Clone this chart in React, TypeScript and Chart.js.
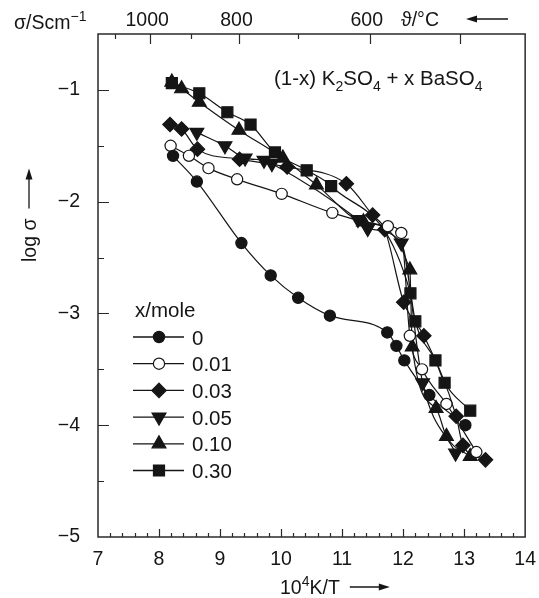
import React, { useEffect, useRef } from 'react';
import { Chart, registerables } from 'chart.js';

Chart.register(...registerables);

// ---- data ----
const xTickValues = [7, 8, 9, 10, 11, 12, 13, 14];
const yTickValues = [-5, -4, -3, -2, -1];
const topTempTicks = [1100, 1000, 900, 800, 700, 600, 500];
const topTempMajor = [1000, 800, 600, 500];
const topTempLabels = [1000, 800, 600];
const seriesLabels = ['0', '0.01', '0.03', '0.05', '0.10', '0.30'];

const x0 = [8.23, 8.62, 9.35, 9.83, 10.28, 10.8, 11.74, 11.89, 12.02, 12.43, 13.02];
const y0 = [-1.59, -1.82, -2.37, -2.66, -2.86, -3.02, -3.17, -3.29, -3.42, -3.73, -4.0];

const x1 = [8.19, 8.49, 8.81, 9.28, 10.01, 10.84, 11.75, 11.97, 12.11, 12.31, 12.71, 13.2];
const y1 = [-1.5, -1.59, -1.7, -1.8, -1.93, -2.1, -2.22, -2.28, -3.2, -3.5, -3.81, -4.24];

const x3 = [8.18, 8.37, 8.63, 9.32, 10.1, 11.07, 11.5, 11.7, 12.01, 12.34, 12.87, 12.98, 13.35];
const y3 = [-1.31, -1.35, -1.53, -1.62, -1.69, -1.84, -2.12, -2.25, -2.9, -3.2, -3.92, -4.18, -4.31];

const x5 = [8.62, 9.08, 9.41, 9.72, 9.85, 11.26, 11.42, 11.97, 12.32, 12.86];
const y5 = [-1.38, -1.5, -1.61, -1.63, -1.66, -2.16, -2.24, -2.37, -3.62, -4.25];

const x10 = [8.21, 8.37, 8.66, 9.31, 10.03, 10.58, 11.35, 12.11, 12.15, 12.54, 12.71, 13.1];
const y10 = [-0.93, -0.99, -1.11, -1.36, -1.61, -1.85, -2.18, -2.61, -3.3, -3.85, -4.1, -4.28];

const x30 = [8.21, 8.66, 9.12, 9.5, 9.9, 10.42, 10.82, 12.12, 12.2, 12.53, 12.68, 13.1];
const y30 = [-0.94, -1.03, -1.2, -1.31, -1.56, -1.72, -1.86, -2.82, -3.07, -3.42, -3.62, -3.87];

const seriesX = [x0, x1, x3, x5, x10, x30];
const seriesY = [y0, y1, y3, y5, y10, y30];

// ---- styles ----
const FONT = '"Liberation Sans", Arial, Helvetica, sans-serif';
const INK = '#151515';
const FS = 19.5;
const FS_TEXT = 20.5;

type MStyle = { ps: any; r: number; rot?: number; open?: boolean; kind: string };
const markerStyles: MStyle[] = [
  { ps: 'circle', r: 5.6, kind: 'circle' },
  { ps: 'circle', r: 5.6, open: true, kind: 'circle' },
  { ps: 'rectRot', r: 7.2, kind: 'diamond' },
  { ps: 'triangle', r: 8, rot: 180, kind: 'down' },
  { ps: 'triangle', r: 8, kind: 'up' },
  { ps: 'rect', r: 7.8, kind: 'square' },
];

function drawRich(ctx: CanvasRenderingContext2D, parts: { t: string; sub?: boolean; sup?: boolean }[], x: number, y: number, size: number) {
  let cx = x;
  for (const p of parts) {
    const s = p.sub || p.sup ? Math.round(size * 0.7) : size;
    ctx.font = `${s}px ${FONT}`;
    const dy = p.sub ? size * 0.3 : p.sup ? -size * 0.42 : 0;
    ctx.fillText(p.t, cx, y + dy);
    cx += ctx.measureText(p.t).width;
  }
  return cx;
}

function drawMarker(ctx: CanvasRenderingContext2D, kind: string, x: number, y: number, r: number, open?: boolean) {
  ctx.beginPath();
  if (kind === 'circle') {
    ctx.arc(x, y, r, 0, Math.PI * 2);
  } else if (kind === 'square') {
    const s = r * Math.SQRT1_2;
    ctx.rect(x - s, y - s, 2 * s, 2 * s);
  } else if (kind === 'diamond') {
    ctx.moveTo(x, y - r);
    ctx.lineTo(x + r, y);
    ctx.lineTo(x, y + r);
    ctx.lineTo(x - r, y);
    ctx.closePath();
  } else if (kind === 'up') {
    ctx.moveTo(x, y - r);
    ctx.lineTo(x + r * 0.866, y + r * 0.5);
    ctx.lineTo(x - r * 0.866, y + r * 0.5);
    ctx.closePath();
  } else if (kind === 'down') {
    ctx.moveTo(x, y + r);
    ctx.lineTo(x + r * 0.866, y - r * 0.5);
    ctx.lineTo(x - r * 0.866, y - r * 0.5);
    ctx.closePath();
  }
  ctx.fillStyle = open ? '#ffffff' : INK;
  ctx.fill();
  ctx.lineWidth = 1.2;
  ctx.strokeStyle = INK;
  ctx.stroke();
}

function arrowH(ctx: CanvasRenderingContext2D, x1: number, x2: number, y: number) {
  const dir = Math.sign(x2 - x1);
  ctx.beginPath();
  ctx.moveTo(x1, y);
  ctx.lineTo(x2 - dir * 8, y);
  ctx.lineWidth = 1.3;
  ctx.strokeStyle = INK;
  ctx.stroke();
  ctx.beginPath();
  ctx.moveTo(x2, y);
  ctx.lineTo(x2 - dir * 11, y - 3.5);
  ctx.lineTo(x2 - dir * 11, y + 3.5);
  ctx.closePath();
  ctx.fillStyle = INK;
  ctx.fill();
}

function arrowV(ctx: CanvasRenderingContext2D, x: number, y1: number, y2: number) {
  const dir = Math.sign(y2 - y1);
  ctx.beginPath();
  ctx.moveTo(x, y1);
  ctx.lineTo(x, y2 - dir * 8);
  ctx.lineWidth = 1.3;
  ctx.strokeStyle = INK;
  ctx.stroke();
  ctx.beginPath();
  ctx.moveTo(x, y2);
  ctx.lineTo(x - 3.5, y2 - dir * 11);
  ctx.lineTo(x + 3.5, y2 - dir * 11);
  ctx.closePath();
  ctx.fillStyle = INK;
  ctx.fill();
}

const decorPlugin = {
  id: 'decor',
  afterDraw(chart: any) {
    const ctx: CanvasRenderingContext2D = chart.ctx;
    const a = chart.chartArea;
    const xs = chart.scales.x;
    const ys = chart.scales.y;
    ctx.save();
    // frame
    ctx.strokeStyle = '#2a2a2a';
    ctx.lineWidth = 1.5;
    ctx.strokeRect(a.left, a.top, a.right - a.left, a.bottom - a.top);

    ctx.lineWidth = 1.2;
    ctx.beginPath();
    // left ticks (inward)
    for (let v = -5; v <= -0.5; v += 0.5) {
      const py = Math.round(ys.getPixelForValue(v)) + 0.5;
      if (py <= a.top + 1 || py >= a.bottom - 1) continue;
      const len = Number.isInteger(v) ? 11 : 6;
      ctx.moveTo(a.left, py);
      ctx.lineTo(a.left + len, py);
    }
    // bottom ticks (inward)
    for (let i = 0; i <= 35; i++) {
      const v = 7 + i * 0.2;
      const px = Math.round(xs.getPixelForValue(v)) + 0.5;
      if (px <= a.left + 1 || px >= a.right - 1) continue;
      const len = i % 5 === 0 ? 8 : 4;
      ctx.moveTo(px, a.bottom);
      ctx.lineTo(px, a.bottom - len);
    }
    // top ticks: temperature scale
    for (const t of topTempTicks) {
      const px = Math.round(xs.getPixelForValue(1e4 / (t + 273.15))) + 0.5;
      const len = topTempMajor.includes(t) ? 10 : 5;
      ctx.moveTo(px, a.top);
      ctx.lineTo(px, a.top + len);
    }
    ctx.stroke();

    ctx.fillStyle = INK;
    ctx.textBaseline = 'alphabetic';
    // top temperature labels
    ctx.font = `${FS}px ${FONT}`;
    ctx.textAlign = 'center';
    for (const t of topTempLabels) {
      const px = xs.getPixelForValue(1e4 / (t + 273.15));
      ctx.fillText(String(t), px - 3, 26);
    }
    ctx.textAlign = 'left';
    ctx.fillText('\u03D1/\u00B0C', 401, 26);
    arrowH(ctx, 508, 466, 19);

    // sigma unit
    drawRich(ctx, [{ t: '\u03C3/Scm' }, { t: '\u22121', sup: true }], 14, 29, FS);

    // inner title
    drawRich(ctx, [
      { t: '(1-x) K' }, { t: '2', sub: true }, { t: 'SO' }, { t: '4', sub: true },
      { t: ' + x BaSO' }, { t: '4', sub: true },
    ], 274, 85, FS_TEXT);

    // x axis title
    const endX = drawRich(ctx, [{ t: '10' }, { t: '4', sup: true }, { t: 'K/T' }], 280, 594, FS);
    arrowH(ctx, endX + 10, endX + 50, 587);

    // y axis title
    const yBase = 262;
    ctx.save();
    ctx.translate(36, yBase);
    ctx.rotate(-Math.PI / 2);
    ctx.font = `${FS}px ${FONT}`;
    ctx.textAlign = 'left';
    ctx.fillText('log \u03C3', 0, 0);
    const w = ctx.measureText('log \u03C3').width;
    ctx.restore();
    arrowV(ctx, 29, yBase - w - 10, yBase - w - 50);

    // legend
    ctx.font = `${FS_TEXT}px ${FONT}`;
    ctx.textAlign = 'left';
    ctx.fillStyle = INK;
    ctx.fillText('x/mole', 135, 317);
    const rowY0 = 337;
    const rowDY = 26.7;
    seriesLabels.forEach((lab, i) => {
      const yy = rowY0 + i * rowDY;
      ctx.beginPath();
      ctx.moveTo(133, yy);
      ctx.lineTo(184, yy);
      ctx.lineWidth = 1.3;
      ctx.strokeStyle = INK;
      ctx.stroke();
      const m = markerStyles[i];
      drawMarker(ctx, m.kind, 159, yy, m.r, m.open);
      ctx.fillStyle = INK;
      ctx.font = `${FS_TEXT}px ${FONT}`;
      ctx.fillText(lab, 192, yy + 7.5);
    });
    ctx.restore();
  },
};

export default function App() {
  const ref = useRef<HTMLCanvasElement>(null);
  useEffect(() => {
    document.body.style.margin = '0';
    const canvas = ref.current!;
    const datasets = seriesLabels.map((lab, i) => {
      const m = markerStyles[i];
      return {
        label: lab,
        data: seriesX[i].map((x, k) => ({ x, y: seriesY[i][k] })),
        borderColor: INK,
        borderWidth: 1.2,
        backgroundColor: m.open ? '#ffffff' : INK,
        pointBackgroundColor: m.open ? '#ffffff' : INK,
        pointBorderColor: INK,
        pointBorderWidth: 1.2,
        pointStyle: m.ps,
        pointRotation: m.rot || 0,
        pointRadius: m.r,
        pointHoverRadius: m.r,
        cubicInterpolationMode: 'monotone' as const,
        fill: false,
      };
    });
    const chart = new Chart(canvas, {
      type: 'line',
      data: { datasets },
      options: {
        responsive: false,
        animation: false,
        devicePixelRatio: 1,
        layout: { padding: { top: 34, right: 13, left: 0, bottom: 0 } },
        plugins: { legend: { display: false }, tooltip: { enabled: false } },
        scales: {
          x: {
            type: 'linear',
            min: 7,
            max: 14,
            grid: { display: false },
            border: { display: false },
            afterBuildTicks: (s: any) => { s.ticks = xTickValues.map((v) => ({ value: v })); },
            afterFit: (s: any) => { s.height = 61; },
            ticks: {
              color: INK,
              padding: 3,
              font: { family: FONT, size: FS },
              maxRotation: 0,
              callback: (v: any) => String(v),
            },
          },
          y: {
            type: 'linear',
            min: -5,
            max: -0.5,
            grid: { display: false },
            border: { display: false },
            afterBuildTicks: (s: any) => { s.ticks = yTickValues.map((v) => ({ value: v })); },
            afterFit: (s: any) => { s.width = 98; },
            ticks: {
              color: INK,
              padding: 10,
              font: { family: FONT, size: FS },
              callback: (v: any) => '\u2212' + String(Math.abs(Number(v))),
            },
          },
        },
      },
      plugins: [decorPlugin],
    });
    return () => chart.destroy();
  }, []);
  return (
    <div style={{ width: 539, height: 598 }}>
      <canvas ref={ref} width={539} height={598} style={{ display: 'block' }} />
    </div>
  );
}
